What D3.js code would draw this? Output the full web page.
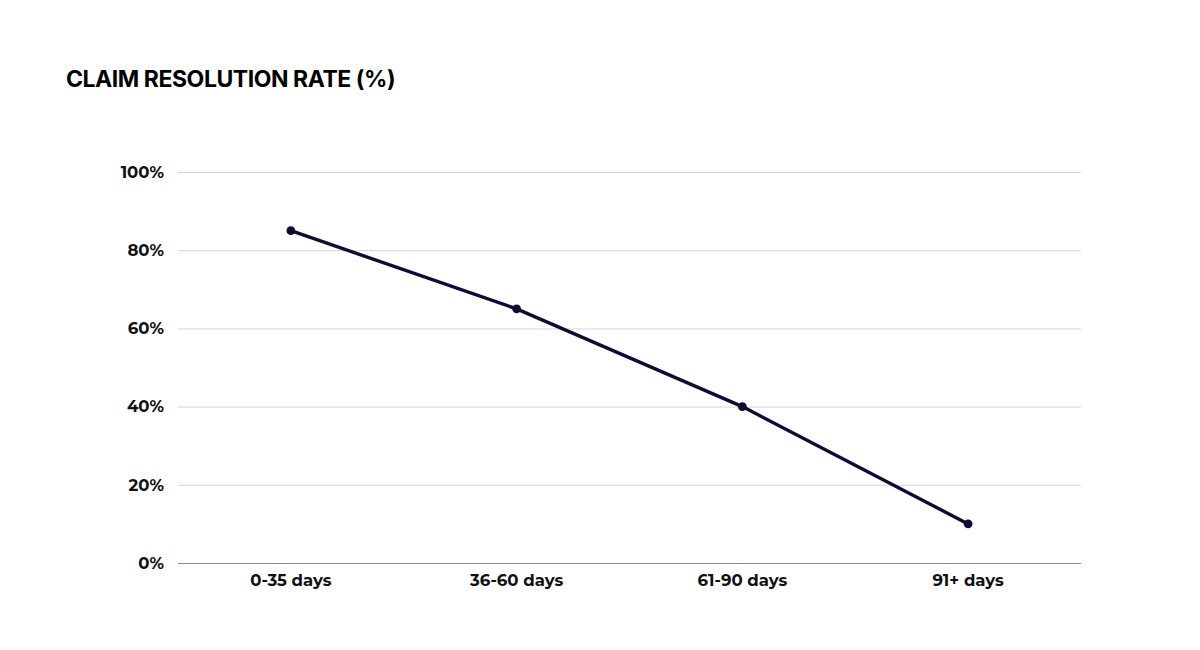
<!DOCTYPE html>
<html><head><meta charset="utf-8">
<script src="https://cdn.jsdelivr.net/npm/d3@7"></script>
<style>body{margin:0;background:#fff}svg{display:block}</style>
</head><body>
<script>
const categories = ["0-35 days","36-60 days","61-90 days","91+ days"];
const values = [85, 65, 40, 10];
const yTicks = [0, 20, 40, 60, 80, 100];
const title = "CLAIM RESOLUTION RATE (%)";

const W = 1200, H = 650;
const m = {left: 178, right: 1081, top: 172, bottom: 563};
const svg = d3.select("body").append("svg").attr("width", W).attr("height", H);

svg.append("text").attr("x", 66).attr("y", 87)
  .attr("font-family", "Inter, sans-serif").attr("font-weight", 700)
  .attr("font-size", 23).attr("letter-spacing", -0.45).attr("fill", "#000").text(title);

const x = d3.scaleBand().domain(categories).range([m.left, m.right]);
const y = d3.scaleLinear().domain([0, 100]).range([m.bottom, m.top]);

const lblFont = "Montserrat, Lato, 'Open Sans', sans-serif";

const yAxis = svg.append("g").attr("transform", `translate(${m.left},0)`)
  .call(d3.axisLeft(y).tickValues(yTicks).tickSize(-(m.right - m.left)).tickFormat(d => d + "%"));
yAxis.select(".domain").remove();
yAxis.selectAll(".tick line").attr("stroke", d => d === 0 ? "#8a8a8a" : "#d6d6d6").attr("stroke-width", 1);
yAxis.selectAll(".tick text").attr("x", -14).attr("font-family", lblFont).attr("font-weight", 700)
  .attr("font-size", 16.5).attr("fill", "#111");

const xAxis = svg.append("g").attr("transform", `translate(0,${m.bottom})`)
  .call(d3.axisBottom(x).tickSize(0));
xAxis.select(".domain").remove();
xAxis.selectAll(".tick text").attr("dy", "1.1em").attr("y", 5).attr("font-family", lblFont).attr("font-weight", 700)
  .attr("font-size", 16.5).attr("fill", "#111");

const cx = d => x(d) + x.bandwidth() / 2;
const data = categories.map((c, i) => ({c, v: values[i]}));

svg.append("path").datum(data)
  .attr("fill", "none").attr("stroke", "#0e0c33").attr("stroke-width", 3.4)
  .attr("d", d3.line().x(d => cx(d.c)).y(d => y(d.v)));

svg.selectAll("circle.pt").data(data).join("circle").attr("class", "pt")
  .attr("cx", d => cx(d.c)).attr("cy", d => y(d.v)).attr("r", 4.4).attr("fill", "#0e0c33");
</script>
</body></html>
